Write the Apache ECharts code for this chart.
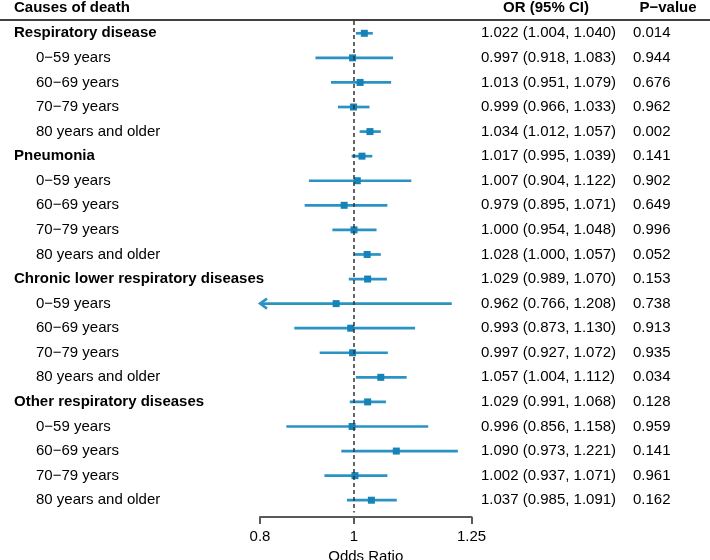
<!DOCTYPE html>
<html>
<head>
<meta charset="utf-8">
<script src="https://cdn.jsdelivr.net/npm/echarts@6/dist/echarts.min.js"></script>
<style>html,body{margin:0;padding:0;background:#fff}#c{width:710px;height:560px}</style>
</head>
<body>
<div id="c"></div>
<script>
const labels = ["Respiratory disease","0−59 years","60−69 years","70−79 years","80 years and older",
"Pneumonia","0−59 years","60−69 years","70−79 years","80 years and older",
"Chronic lower respiratory diseases","0−59 years","60−69 years","70−79 years","80 years and older",
"Other respiratory diseases","0−59 years","60−69 years","70−79 years","80 years and older"];
const isGroup = [1,0,0,0,0, 1,0,0,0,0, 1,0,0,0,0, 1,0,0,0,0];
const orValues = [1.022,0.997,1.013,0.999,1.034, 1.017,1.007,0.979,1.000,1.028, 1.029,0.962,0.993,0.997,1.057, 1.029,0.996,1.090,1.002,1.037];
const lowerCI = [1.004,0.918,0.951,0.966,1.012, 0.995,0.904,0.895,0.954,1.000, 0.989,0.766,0.873,0.927,1.004, 0.991,0.856,0.973,0.937,0.985];
const upperCI = [1.040,1.083,1.079,1.033,1.057, 1.039,1.122,1.071,1.048,1.057, 1.070,1.208,1.130,1.072,1.112, 1.068,1.158,1.221,1.071,1.091];
const pValues = ["0.014","0.944","0.676","0.962","0.002", "0.141","0.902","0.649","0.996","0.052", "0.153","0.738","0.913","0.935","0.034", "0.128","0.959","0.141","0.961","0.162"];
const tickValues = [0.8, 1, 1.25];
const axisMin = 0.8, axisMax = 1.25;

const fmt = v => v.toFixed(3);
const orText = orValues.map((v,i) => fmt(v) + " (" + fmt(lowerCI[i]) + ", " + fmt(upperCI[i]) + ")");
const seriesData = orValues.map((v,i) => [v, i, lowerCI[i], upperCI[i]]);

const FONT = "Liberation Sans";
const COL = "#2a93c4";
const chart = echarts.init(document.getElementById('c'));
chart.setOption({
  animation: false,
  textStyle: {fontFamily: FONT},
  grid: {left: 260, right: 238.5, top: 21, bottom: 47.5, containLabel: false, outerBoundsMode: 'none'},
  xAxis: {
    type: 'value', min: axisMin, max: axisMax,
    offset: 4.5,
    splitLine: {show: false},
    axisLine: {show: true, lineStyle: {color: '#5a5a5a', width: 2}},
    axisTick: {show: true, length: 7, customValues: tickValues, lineStyle: {color: '#5a5a5a', width: 2}},
    axisLabel: {customValues: tickValues, margin: 12, color: '#000', fontSize: 15, fontFamily: FONT,
      formatter: v => String(+v.toFixed(2))},
    name: 'Odds Ratio', nameLocation: 'middle', nameGap: 27,
    nameTextStyle: {color: '#000', fontSize: 15, fontFamily: FONT}
  },
  yAxis: [
    {type: 'category', inverse: true, data: labels,
      axisLine: {show: false}, axisTick: {show: false}, splitLine: {show: false},
      axisLabel: {align: 'left', margin: 246, interval: 0,
        formatter: (v, i) => isGroup[i] ? '{g|' + v + '}' : '{s|' + v + '}',
        rich: {
          g: {fontWeight: 'bold', fontSize: 15, color: '#000', fontFamily: FONT},
          s: {fontSize: 15, color: '#000', fontFamily: FONT, padding: [0,0,0,22]}
        }}},
    {type: 'category', inverse: true, position: 'right', data: orText,
      axisLine: {show: false}, axisTick: {show: false}, splitLine: {show: false},
      axisLabel: {align: 'left', margin: 9.5, interval: 0, fontSize: 15, color: '#000', fontFamily: FONT}},
    {type: 'category', inverse: true, position: 'right', data: pValues,
      axisLine: {show: false}, axisTick: {show: false}, splitLine: {show: false},
      axisLabel: {align: 'left', margin: 161.5, interval: 0, fontSize: 15, color: '#000', fontFamily: FONT}}
  ],
  graphic: [
    {type: 'text', left: 14, top: 0, style: {text: 'Causes of death', font: 'bold 15px "Liberation Sans"', fill: '#000'}},
    {type: 'text', x: 546, y: 8, style: {text: 'OR (95% CI)', font: 'bold 15px "Liberation Sans"', fill: '#000', align: 'center', verticalAlign: 'middle'}},
    {type: 'text', x: 668, y: 8, style: {text: 'P−value', font: 'bold 15px "Liberation Sans"', fill: '#000', align: 'center', verticalAlign: 'middle'}},
    {type: 'line', shape: {x1: 0, y1: 20, x2: 710, y2: 20}, style: {stroke: '#000', lineWidth: 1.5}}
  ],
  series: [{
    type: 'custom',
    yAxisIndex: 0,
    data: seriesData,
    encode: {x: 0, y: 1},
    clip: false,
    renderItem: (params, api) => {
      const est = api.value(0), idx = api.value(1), lo = api.value(2), hi = api.value(3);
      const clippedLo = lo < axisMin;
      const clippedHi = hi > axisMax;
      const pLo = api.coord([clippedLo ? axisMin : lo, idx]);
      const pHi = api.coord([clippedHi ? axisMax : hi, idx]);
      const pE = api.coord([est, idx]);
      const children = [
        {type: 'line', shape: {x1: pLo[0], y1: pLo[1], x2: pHi[0], y2: pHi[1]}, style: {stroke: COL, lineWidth: 2.7}}
      ];
      if (clippedLo) {
        children.push({type: 'polyline', shape: {points: [[pLo[0]+7, pLo[1]-5],[pLo[0], pLo[1]],[pLo[0]+7, pLo[1]+5]]},
          style: {stroke: COL, lineWidth: 2.5, fill: null}});
      }
      if (clippedHi) {
        children.push({type: 'polyline', shape: {points: [[pHi[0]-7, pHi[1]-5],[pHi[0], pHi[1]],[pHi[0]-7, pHi[1]+5]]},
          style: {stroke: COL, lineWidth: 2.5, fill: null}});
      }
      children.push({type: 'rect', shape: {x: pE[0]-3.5, y: pE[1]-3.5, width: 7, height: 7}, style: {fill: '#1583b8'}});
      return {type: 'group', children};
    },
    markLine: {
      silent: true, symbol: 'none', label: {show: false},
      lineStyle: {color: '#333', type: [4, 3], width: 1.5},
      data: [{xAxis: 1}]
    }
  }]
});
</script>
</body>
</html>
